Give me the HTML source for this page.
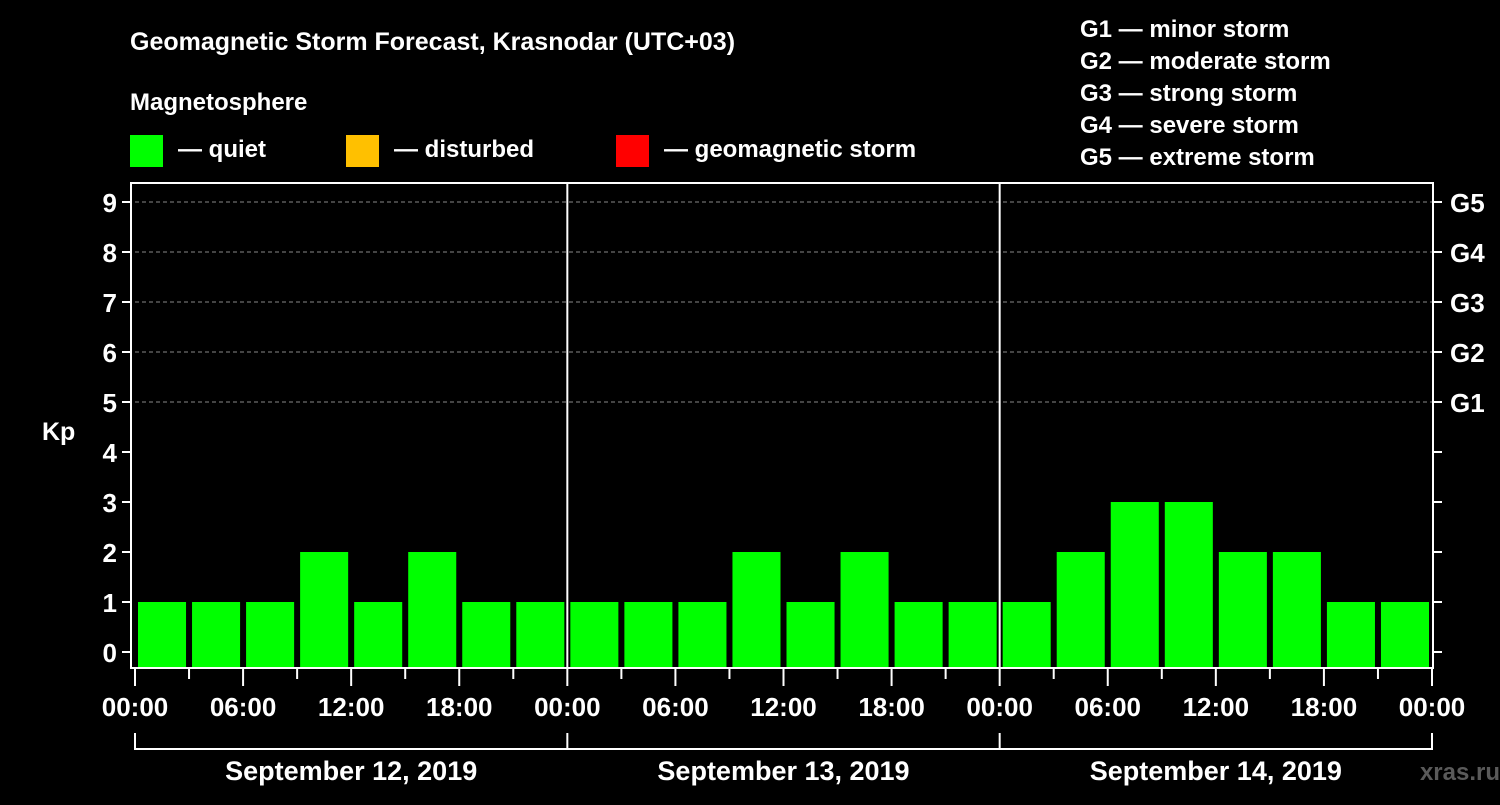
<!DOCTYPE html>
<html><head><meta charset="utf-8"><style>
body{margin:0;background:#000;width:1500px;height:800px;overflow:hidden}
svg text{font-family:"Liberation Sans",sans-serif;font-weight:bold;fill:#fff}
</style></head><body>
<svg id="c" width="1500" height="800" xmlns="http://www.w3.org/2000/svg">
<text x="130" y="50" font-size="25">Geomagnetic Storm Forecast, Krasnodar (UTC+03)</text>
<text x="130" y="110" font-size="24">Magnetosphere</text>
<g><rect x="130" y="135" width="33" height="32" fill="#00ff00"/><text x="178" y="157" font-size="24">— quiet</text></g>
<g><rect x="346" y="135" width="33" height="32" fill="#ffc000"/><text x="394" y="157" font-size="24">— disturbed</text></g>
<g><rect x="616" y="135" width="33" height="32" fill="#ff0000"/><text x="664" y="157" font-size="24">— geomagnetic storm</text></g>
<g font-size="24">
<text x="1080" y="37">G1 — minor storm</text><text x="1080" y="69">G2 — moderate storm</text><text x="1080" y="101">G3 — strong storm</text><text x="1080" y="133">G4 — severe storm</text><text x="1080" y="165">G5 — extreme storm</text></g>
<text x="42" y="440" font-size="25">Kp</text>
<g id="plot"></g>
<text x="1500" y="780" font-size="24" text-anchor="end" fill="#555" style="fill:#5a5a5a">xras.ru</text>
</svg>
<script>
const days=["September 12, 2019","September 13, 2019","September 14, 2019"];
const kpValues=[1,1,1,2,1,2,1,1, 1,1,1,2,1,2,1,1, 1,2,3,3,2,2,1,1];
const yTicks=[0,1,2,3,4,5,6,7,8,9];
const gLabels=["G1","G2","G3","G4","G5"];
const hourLabels=["00:00","06:00","12:00","18:00"];
const L=135,R=1432,B=668,T=183;
const dayW=(R-L)/days.length;
const xOf=h=>L+h/24*dayW;
const yOf=v=>652-v*50;
const p=document.getElementById('plot');
const NS="http://www.w3.org/2000/svg";
function mk(t,a,txt){const e=document.createElementNS(NS,t);for(const k in a)e.setAttribute(k,a[k]);if(txt!=null)e.textContent=txt;p.appendChild(e);return e;}
// grid
gLabels.forEach((g,i)=>{const y=yOf(5+i);
const l=mk('line',{x1:L,x2:R,y1:y,y2:y,stroke:'#888','stroke-dasharray':'4,3','stroke-width':1});


const t=mk('text',{x:1450,y:y+10,'font-size':26},g);

});
// bars
const slot=dayW/8;
kpValues.forEach((v,i)=>{const x=L+i*slot+3;
const r=mk('rect',{x:x,y:yOf(v),width:slot-6,height:B-yOf(v),fill:v>=5?'#ff0000':(v>=4?'#ffc000':'#00ff00')});

});
// axes frame
const f=mk('path',{d:`M${L-4} ${B} H${R+1} V${T} H${L-4} Z`,fill:'none',stroke:'#fff','stroke-width':2});


for(let d=1;d<days.length;d++){const x=L+d*dayW;
const l=mk('line',{x1:x,x2:x,y1:T,y2:B,stroke:'#fff','stroke-width':2});

}
// y ticks
yTicks.forEach(v=>{const y=yOf(v);
mk('line',{x1:122,x2:131,y1:y,y2:y,stroke:'#fff','stroke-width':2});
mk('line',{x1:R,x2:R+10,y1:y,y2:y,stroke:'#fff','stroke-width':2});
const t=mk('text',{x:117,y:y+10,'font-size':26,'text-anchor':'end'},v);

});
// x ticks
for(let d=0;d<days.length;d++){for(let h=0;h<24;h+=3){const x=xOf(d*24+h);
mk('line',{x1:x,x2:x,y1:B,y2:h%6==0?686:679,stroke:'#fff','stroke-width':2});
if(h%6==0){const t=mk('text',{x:x,y:716,'font-size':26,'text-anchor':'middle'},hourLabels[h/6]);

}}
const t=mk('text',{x:L+(d+0.5)*dayW,y:780,'font-size':27,'text-anchor':'middle'},days[d]);

}
mk('line',{x1:R,x2:R,y1:B,y2:686,stroke:'#fff','stroke-width':2});
const e=mk('text',{x:R,y:716,'font-size':26,'text-anchor':'middle'},"00:00");


// bracket
const br=mk('line',{x1:L,x2:R,y1:749,y2:749,stroke:'#fff','stroke-width':2});


for(let d=0;d<=days.length;d++){const x=L+d*dayW;mk('line',{x1:x,x2:x,y1:733,y2:750,stroke:'#fff','stroke-width':2});}
</script>
</body></html>
